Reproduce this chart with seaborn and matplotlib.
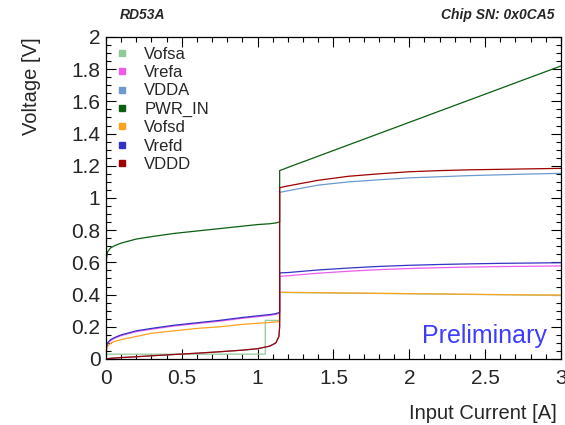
import matplotlib
matplotlib.use("Agg")
import matplotlib.pyplot as plt
from matplotlib.lines import Line2D
from matplotlib.ticker import MultipleLocator, FuncFormatter
import seaborn as sns
import pandas as pd

# ---------------- data ----------------
current = [0, 0.003, 0.01, 0.03, 0.06, 0.1, 0.2, 0.3, 0.45, 0.6, 0.75, 0.9, 1.0,
           1.08, 1.12, 1.14, 1.145, 1.145, 1.2, 1.4, 1.6, 1.8, 2.0, 2.2, 2.4, 2.6, 2.8, 3.0]

pwr_in = [0, 0.62, 0.665, 0.69, 0.705, 0.72, 0.745, 0.76, 0.78, 0.795, 0.81, 0.825, 0.835,
          0.84, 0.845, 0.85, 0.85, 1.17, 1.19, 1.26, 1.33, 1.40, 1.47, 1.54, 1.61, 1.68, 1.75, 1.82]
vddd = [0, 0.0, 0.002, 0.004, 0.006, 0.009, 0.014, 0.02, 0.028, 0.036, 0.045, 0.055, 0.064,
        0.08, 0.1, 0.14, 0.2, 1.064, 1.075, 1.11, 1.135, 1.15, 1.163, 1.17, 1.175, 1.178, 1.181, 1.184]
vdda = [0, 0.0, 0.002, 0.004, 0.006, 0.009, 0.014, 0.02, 0.028, 0.036, 0.045, 0.055, 0.064,
        0.08, 0.1, 0.14, 0.2, 1.035, 1.045, 1.08, 1.10, 1.113, 1.125, 1.132, 1.139, 1.144, 1.149, 1.153]
vrefd = [0, 0.07, 0.1, 0.12, 0.135, 0.15, 0.175, 0.19, 0.21, 0.225, 0.24, 0.258, 0.268,
         0.276, 0.282, 0.288, 0.29, 0.535, 0.537, 0.553, 0.565, 0.575, 0.582, 0.587, 0.591, 0.594, 0.596, 0.598]
vrefa = [0, 0.065, 0.095, 0.115, 0.13, 0.145, 0.17, 0.185, 0.205, 0.22, 0.235, 0.253, 0.263,
         0.271, 0.277, 0.283, 0.285, 0.513, 0.517, 0.533, 0.545, 0.555, 0.562, 0.567, 0.571, 0.574, 0.576, 0.578]
vofsd = [0, 0.05, 0.08, 0.097, 0.11, 0.12, 0.14, 0.16, 0.175, 0.19, 0.2, 0.215, 0.222,
         0.227, 0.23, 0.233, 0.235, 0.415, 0.414, 0.412, 0.41, 0.408, 0.406, 0.404, 0.402, 0.4, 0.398, 0.397]

vofsa_current = [0, 0.003, 1.05, 1.05, 1.145, 1.145, 2.0, 3.0]
vofsa = [0, 0.03, 0.03, 0.24, 0.24, 0.413, 0.405, 0.395]

labels = ["Vofsa", "Vrefa", "VDDA", "PWR_IN", "Vofsd", "Vrefd", "VDDD"]
colors = ["#92c99a", "#ee5cee", "#6c9ad0", "#0b5e12", "#ffa11f", "#3434c4", "#a00000"]

# ---------------- figure ----------------
sns.set_style("ticks")
plt.rcParams["font.family"] = ["Liberation Sans", "DejaVu Sans"]

fig = plt.figure(figsize=(5.65, 4.25), dpi=100)
ax = fig.add_axes([0.1876, 0.1553, 0.8053, 0.7577])

series = {
    "Vofsa": (vofsa_current, vofsa),
    "Vrefa": (current, vrefa),
    "VDDA": (current, vdda),
    "PWR_IN": (current, pwr_in),
    "Vofsd": (current, vofsd),
    "Vrefd": (current, vrefd),
    "VDDD": (current, vddd),
}
for lab, col in zip(labels, colors):
    xs, ys = series[lab]
    df = pd.DataFrame({"I": xs, "V": ys})
    sns.lineplot(data=df, x="I", y="V", estimator=None, sort=False, color=col,
                 linewidth=0.9, ax=ax, legend=False)

ax.set_xlim(0, 3)
ax.set_ylim(0, 2)
ax.set_xlabel("")
ax.set_ylabel("")
ax.xaxis.set_major_locator(MultipleLocator(0.5))
ax.xaxis.set_minor_locator(MultipleLocator(0.1))
ax.yaxis.set_major_locator(MultipleLocator(0.2))
ax.yaxis.set_minor_locator(MultipleLocator(0.05))
ax.xaxis.set_major_formatter(FuncFormatter(lambda v, p: f"{v:g}"))
ax.yaxis.set_major_formatter(FuncFormatter(lambda v, p: f"{v:g}"))
ax.tick_params(which="both", direction="in", top=True, right=True, width=0.8, color="black")
ax.tick_params(which="major", length=7.2, labelsize=15)
ax.tick_params(which="minor", length=3.6)
ax.tick_params(axis="x", which="major", pad=7)
ax.tick_params(axis="y", which="major", pad=4)
for s in ax.spines.values():
    s.set_linewidth(0.9)
    s.set_color("black")

handles = [Line2D([], [], linestyle="none", marker="s", markersize=5,
                  markerfacecolor=c, markeredgecolor=c) for c in colors]
fig.legend(handles, labels, loc="upper left", bbox_to_anchor=(0.205, 0.89),
           frameon=False, fontsize=12, handlelength=0.8, handletextpad=0.9,
           labelspacing=0.2, borderpad=0, borderaxespad=0)

fig.text(0.055, 0.913, "Voltage [V]", rotation=90, ha="center", va="top", fontsize=14.5)
fig.text(0.986, 0.028, "Input Current [A]", ha="right", va="center", fontsize=14.5)
fig.text(0.212, 0.965, "RD53A", ha="left", va="center", fontsize=10,
         fontweight="bold", fontstyle="italic")
fig.text(0.982, 0.965, "Chip SN: 0x0CA5", ha="right", va="center", fontsize=10,
         fontweight="bold", fontstyle="italic")
ax.text(0.97, 0.07, "Preliminary", transform=ax.transAxes, ha="right", va="center",
        fontsize=18, color="#3d3dff")

fig.savefig("out.png", dpi=100)
